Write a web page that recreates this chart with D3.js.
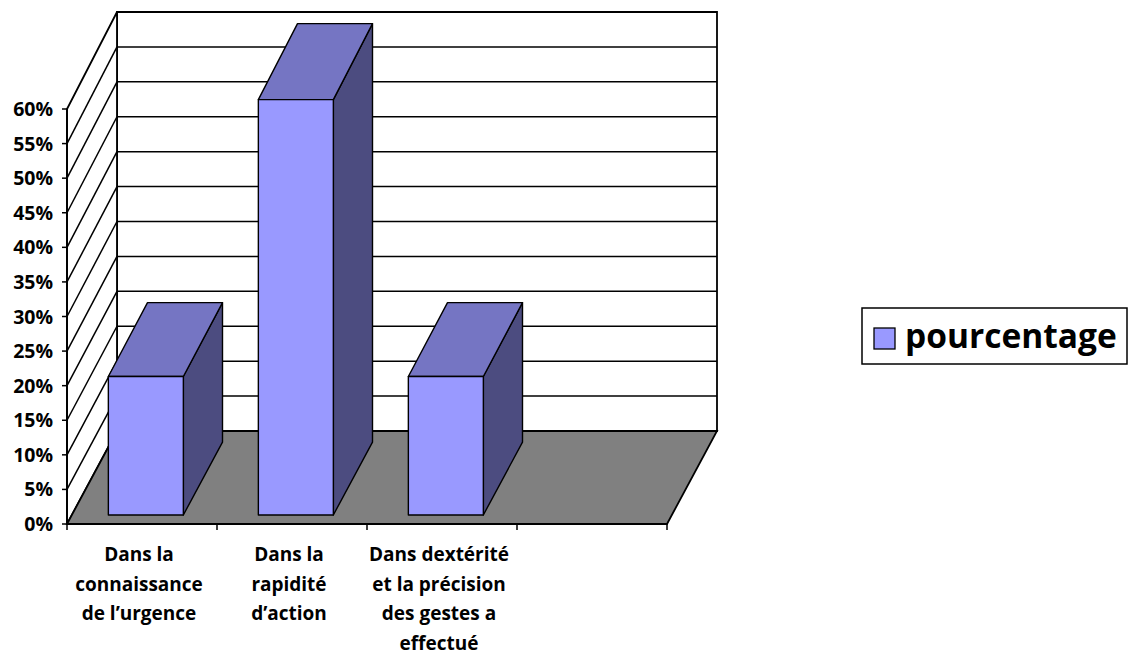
<!DOCTYPE html>
<html>
<head>
<meta charset="utf-8">
<script src="https://cdn.jsdelivr.net/npm/d3@7"></script>
<style>
  html, body { margin: 0; padding: 0; background: #fff; }
  #chart { width: 1128px; height: 655px; }
  text { font-family: "Open Sans", Lato, sans-serif; font-weight: bold; fill: #000; }
</style>
</head>
<body>
<div id="chart"></div>
<script>
// data
const categories = [
  ["Dans la", "connaissance", "de l\u2019urgence"],
  ["Dans la", "rapidit\u00e9", "d\u2019action"],
  ["Dans dext\u00e9rit\u00e9", "et la pr\u00e9cision", "des gestes a", "effectu\u00e9"],
  []
];
const values = [20, 60, 20, null];
const yTicks = [0, 5, 10, 15, 20, 25, 30, 35, 40, 45, 50, 55, 60];
const seriesName = "pourcentage";

const width = 1128, height = 655;
const svg = d3.select('#chart').append('svg')
  .attr('width', width)
  .attr('height', height)
  .attr('viewBox', [0, 0, width, height]);

// 3D frame: front plane and back plane
const depthX = 50;
const yFront = d3.scaleLinear().domain([0, 60]).range([524, 109]);
const yBack = d3.scaleLinear().domain([0, 60]).range([431, 12]);
const x = d3.scaleBand().domain(d3.range(categories.length)).range([67, 667]);

// point at category x position, value v, depth t (0 front .. 1 back)
function pt(px, v, t) {
  return [px + t * depthX, yFront(v) * (1 - t) + yBack(v) * t];
}

const x0 = x.range()[0], x1 = x.range()[1];
const stroke = '#000';

// back wall
svg.append('polygon')
  .attr('points', [pt(x0, 0, 1), pt(x1, 0, 1), pt(x1, 60, 1), pt(x0, 60, 1)].join(' '))
  .attr('fill', '#fff').attr('stroke', stroke).attr('stroke-width', 1.8);

svg.append('g').selectAll('line').data(yTicks.slice(1, -1)).join('line')
  .attr('x1', pt(x0, 0, 1)[0]).attr('x2', pt(x1, 0, 1)[0])
  .attr('y1', d => yBack(d)).attr('y2', d => yBack(d))
  .attr('stroke', stroke).attr('stroke-width', 1.5);

// left wall
svg.append('polygon')
  .attr('points', [pt(x0, 0, 0), pt(x0, 0, 1), pt(x0, 60, 1), pt(x0, 60, 0)].join(' '))
  .attr('fill', '#fff').attr('stroke', stroke).attr('stroke-width', 1.8);

svg.append('g').selectAll('line').data(yTicks.slice(1, -1)).join('line')
  .attr('x1', x0).attr('y1', d => yFront(d))
  .attr('x2', x0 + depthX).attr('y2', d => yBack(d))
  .attr('stroke', stroke).attr('stroke-width', 1.5);

// floor
svg.append('polygon')
  .attr('points', [pt(x0, 0, 0), pt(x1, 0, 0), pt(x1, 0, 1), pt(x0, 0, 1)].join(' '))
  .attr('fill', '#808080').attr('stroke', stroke).attr('stroke-width', 1.8);

// bars
const tFront = 0.097, tBack = 0.88;
const barW = x.bandwidth() * 0.5;
const bars = svg.append('g');
values.forEach((v, i) => {
  if (v == null) return;
  const l = x(i) + (x.bandwidth() - barW) / 2 - 1;
  const r = l + barW;
  const g = bars.append('g');
  // side
  g.append('polygon')
    .attr('points', [pt(r, 0, tFront), pt(r, 0, tBack), pt(r, v, tBack), pt(r, v, tFront)].join(' '))
    .attr('fill', '#4c4c80').attr('stroke', stroke).attr('stroke-width', 1.4).attr('stroke-linejoin', 'round');
  // top
  g.append('polygon')
    .attr('points', [pt(l, v, tFront), pt(r, v, tFront), pt(r, v, tBack), pt(l, v, tBack)].join(' '))
    .attr('fill', '#7575c3').attr('stroke', stroke).attr('stroke-width', 1.4).attr('stroke-linejoin', 'round');
  // front
  g.append('polygon')
    .attr('points', [pt(l, 0, tFront), pt(r, 0, tFront), pt(r, v, tFront), pt(l, v, tFront)].join(' '))
    .attr('fill', '#9999ff').attr('stroke', stroke).attr('stroke-width', 1.4).attr('stroke-linejoin', 'round');
});

// y axis
svg.append('line')
  .attr('x1', x0).attr('x2', x0)
  .attr('y1', yFront(0)).attr('y2', yFront(60))
  .attr('stroke', stroke).attr('stroke-width', 1.8);

const yAxis = svg.append('g');
yAxis.selectAll('line').data(yTicks).join('line')
  .attr('x1', x0 - 5).attr('x2', x0)
  .attr('y1', d => yFront(d)).attr('y2', d => yFront(d))
  .attr('stroke', stroke).attr('stroke-width', 1.5);
yAxis.selectAll('text').data(yTicks).join('text')
  .attr('x', x0 - 14).attr('y', d => yFront(d))
  .attr('dy', '0.36em')
  .attr('text-anchor', 'end')
  .style('font-size', '19.5px')
  .text(d => d + '%');

// x axis
svg.append('line')
  .attr('x1', x0).attr('x2', x1)
  .attr('y1', yFront(0)).attr('y2', yFront(0))
  .attr('stroke', stroke).attr('stroke-width', 1.8);

const xAxis = svg.append('g');
xAxis.selectAll('line').data(d3.range(categories.length + 1)).join('line')
  .attr('x1', d => x0 + d * x.step()).attr('x2', d => x0 + d * x.step())
  .attr('y1', yFront(0)).attr('y2', yFront(0) + 6)
  .attr('stroke', stroke).attr('stroke-width', 1.5);

categories.forEach((lines, i) => {
  const cx = x(i) + x.bandwidth() / 2 - 3;
  const t = xAxis.append('text')
    .attr('text-anchor', 'middle')
    .style('font-size', '19px');
  lines.forEach((s, j) => {
    t.append('tspan').attr('x', cx).attr('y', 561 + j * 29.5).text(s);
  });
});

// legend
const lg = svg.append('g').attr('transform', 'translate(862,308)');
lg.append('rect')
  .attr('x', 0).attr('y', 0).attr('width', 265).attr('height', 56)
  .attr('fill', '#fff').attr('stroke', stroke).attr('stroke-width', 1.5);
lg.append('rect')
  .attr('x', 12).attr('y', 20).attr('width', 21).attr('height', 21)
  .attr('fill', '#9999ff').attr('stroke', stroke).attr('stroke-width', 1.3);
lg.append('text')
  .attr('x', 43).attr('y', 40)
  .style('font-size', '33.5px')
  .text(seriesName);
</script>
</body>
</html>
